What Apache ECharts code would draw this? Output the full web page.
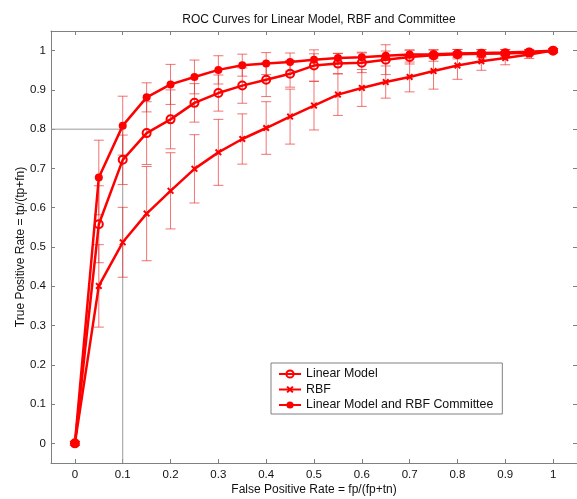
<!DOCTYPE html>
<html>
<head>
<meta charset="utf-8">
<script src="https://cdn.jsdelivr.net/npm/echarts@6/dist/echarts.min.js"></script>
<style>
  html, body { margin: 0; padding: 0; background: #fff; }
  #chart { width: 577px; height: 499px; }
</style>
</head>
<body>
<div id="chart"></div>
<script>
const fpr = [0, 0.05, 0.1, 0.15, 0.2, 0.25, 0.3, 0.35, 0.4, 0.45, 0.5, 0.55, 0.6, 0.65, 0.7, 0.75, 0.8, 0.85, 0.9, 0.95, 1]

const linearTpr = [0, 0.558, 0.722, 0.790, 0.825, 0.867, 0.892, 0.911, 0.926, 0.941, 0.962, 0.967, 0.969, 0.977, 0.984, 0.988, 0.991, 0.992, 0.993, 0.995, 1.0]
const linearErr = [0.005, 0.098, 0.063, 0.080, 0.075, 0.049, 0.046, 0.045, 0.043, 0.034, 0.040, 0.026, 0.025, 0.038, 0.018, 0.015, 0.012, 0.010, 0.010, 0.008, 0.005]

const rbfTpr = [0, 0.401, 0.512, 0.585, 0.643, 0.699, 0.741, 0.775, 0.803, 0.832, 0.860, 0.888, 0.905, 0.920, 0.933, 0.948, 0.962, 0.973, 0.981, 0.990, 1.0]
const rbfErr = [0.005, 0.105, 0.089, 0.120, 0.097, 0.087, 0.084, 0.064, 0.067, 0.070, 0.062, 0.053, 0.047, 0.041, 0.038, 0.046, 0.035, 0.023, 0.017, 0.010, 0.005]

const committeeTpr = [0, 0.677, 0.809, 0.881, 0.914, 0.933, 0.951, 0.963, 0.967, 0.971, 0.977, 0.981, 0.983, 0.987, 0.990, 0.991, 0.993, 0.994, 0.995, 0.997, 1.0]
const committeeErr = [0.005, 0.095, 0.075, 0.037, 0.051, 0.043, 0.036, 0.028, 0.028, 0.023, 0.015, 0.012, 0.013, 0.012, 0.011, 0.010, 0.010, 0.009, 0.008, 0.006, 0.005]

// thin gray guide at (0.1, 0.8)
const refX = [-0.05, 0.1, 0.1]
const refY = [0.8, 0.8, -0.05]

const xTicks = [0, 0.1, 0.2, 0.3, 0.4, 0.5, 0.6, 0.7, 0.8, 0.9, 1]
const yTicks = [0, 0.1, 0.2, 0.3, 0.4, 0.5, 0.6, 0.7, 0.8, 0.9, 1]

const RED = '#ff0000'
const ERR_COLOR = 'rgba(235, 40, 40, 0.65)'
const AXIS_COLOR = '#808080'
const FONT = 'Liberation Sans, Arial, sans-serif'
const CROSS = 'path://M0,2L2,0L5,3L8,0L10,2L7,5L10,8L8,10L5,7L2,10L0,8L3,5Z'

const pairs = (ys) => fpr.map((x, i) => [x, ys[i]])
const errRows = (ys, es) => fpr.map((x, i) => [x, ys[i] - es[i], ys[i] + es[i]])

function renderErr(params, api) {
  const x = api.value(0)
  const lo = api.coord([x, api.value(1)])
  const hi = api.coord([x, api.value(2)])
  const w = 5
  const style = { stroke: ERR_COLOR, lineWidth: 1 }
  return {
    type: 'group',
    children: [
      { type: 'line', shape: { x1: lo[0], y1: lo[1], x2: hi[0], y2: hi[1] }, style },
      { type: 'line', shape: { x1: lo[0] - w, y1: lo[1], x2: lo[0] + w, y2: lo[1] }, style },
      { type: 'line', shape: { x1: hi[0] - w, y1: hi[1], x2: hi[0] + w, y2: hi[1] }, style },
    ]
  }
}

const errSeries = (name, ys, es) => ({
  name: name + ' err',
  type: 'custom',
  renderItem: renderErr,
  encode: { x: 0, y: [1, 2] },
  data: errRows(ys, es),
  z: 2,
  silent: true,
})

const baseAxis = {
  type: 'value',
  min: -0.05,
  max: 1.05,
  axisLine: { show: true, onZero: false, lineStyle: { color: AXIS_COLOR, width: 1 } },
  splitLine: { show: false },
}

const chart = echarts.init(document.getElementById('chart'), null, { renderer: 'canvas' })

const option = {
  animation: false,
  textStyle: { fontFamily: FONT },
  title: {
    text: 'ROC Curves for Linear Model, RBF and Committee',
    left: 314,
    top: 9,
    textAlign: 'center',
    textStyle: { fontFamily: FONT, fontSize: 12, fontWeight: 'normal', color: '#111' },
  },
  legend: {
    data: ['Linear Model', 'RBF', 'Linear Model and RBF Committee'],
    orient: 'vertical',
    left: 271,
    top: 363,
    padding: [5, 9, 3, 7],
    itemWidth: 22,
    itemHeight: 9,
    itemGap: 3.5,
    borderColor: AXIS_COLOR,
    borderWidth: 1,
    backgroundColor: '#fff',
    textStyle: { fontFamily: FONT, fontSize: 12.4, color: '#111' },
  },
  grid: { left: 51, right: 0, top: 31, bottom: 36, outerBoundsMode: 'none' },
  xAxis: [
    {
      ...baseAxis,
      position: 'bottom',
      name: 'False Positive Rate = fp/(fp+tn)',
      nameLocation: 'middle',
      nameGap: 21,
      nameMoveOverlap: false,
      nameTextStyle: { fontFamily: FONT, fontSize: 12, color: '#111' },
      axisTick: { inside: true, length: 4, customValues: xTicks, lineStyle: { color: AXIS_COLOR } },
      axisLabel: {
        customValues: xTicks,
        margin: 6,
        fontSize: 11.5,
        color: '#111',
        formatter: (v) => String(Math.round(v * 10) / 10),
      },
    },
    {
      ...baseAxis,
      position: 'top',
      axisTick: { inside: true, length: 4, customValues: xTicks, lineStyle: { color: AXIS_COLOR } },
      axisLabel: { show: false },
    },
  ],
  yAxis: [
    {
      ...baseAxis,
      position: 'left',
      name: 'True Positive Rate = tp/(tp+fn)',
      nameLocation: 'middle',
      nameGap: 24,
      nameMoveOverlap: false,
      nameTextStyle: { fontFamily: FONT, fontSize: 12, color: '#111' },
      axisTick: { inside: true, length: 4, customValues: yTicks, lineStyle: { color: AXIS_COLOR } },
      axisLabel: {
        customValues: yTicks,
        margin: 5,
        fontSize: 11.5,
        color: '#111',
        formatter: (v) => String(Math.round(v * 10) / 10),
      },
    },
    {
      ...baseAxis,
      position: 'right',
      axisTick: { inside: true, length: 4, customValues: yTicks, lineStyle: { color: AXIS_COLOR } },
      axisLabel: { show: false },
    },
  ],
  series: [
    {
      name: 'ref',
      type: 'line',
      data: refX.map((x, i) => [x, refY[i]]),
      symbol: 'none',
      lineStyle: { color: '#9a9a9a', width: 1 },
      silent: true,
      z: 1,
    },
    errSeries('Linear Model', linearTpr, linearErr),
    errSeries('RBF', rbfTpr, rbfErr),
    errSeries('Committee', committeeTpr, committeeErr),
    {
      name: 'Linear Model',
      type: 'line',
      data: pairs(linearTpr),
      symbol: 'circle',
      symbolSize: 8,
      lineStyle: { color: RED, width: 2.5 },
      itemStyle: { color: 'rgba(255,255,255,0)', borderColor: RED, borderWidth: 2 },
      z: 3,
    },
    {
      name: 'RBF',
      type: 'line',
      data: pairs(rbfTpr),
      symbol: CROSS,
      symbolSize: 7,
      lineStyle: { color: RED, width: 2.5 },
      itemStyle: { color: RED },
      z: 3,
    },
    {
      name: 'Linear Model and RBF Committee',
      type: 'line',
      data: pairs(committeeTpr),
      symbol: 'circle',
      symbolSize: 8,
      lineStyle: { color: RED, width: 2.5 },
      itemStyle: { color: RED },
      z: 4,
    },
  ],
}

chart.setOption(option)
</script>
</body>
</html>
